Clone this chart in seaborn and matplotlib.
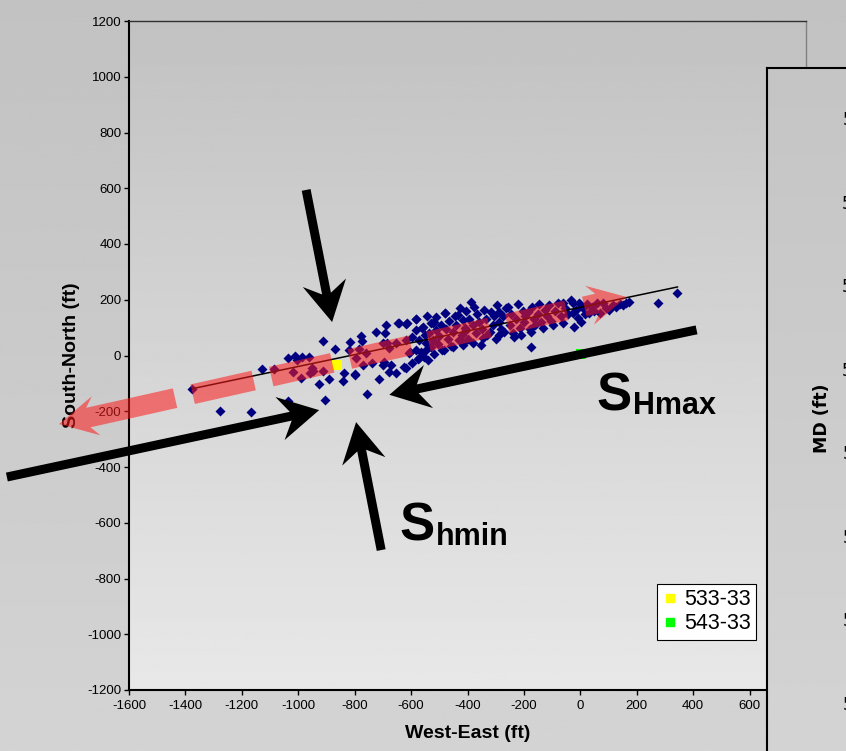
import numpy as np
import pandas as pd
import matplotlib
matplotlib.use('Agg')
import matplotlib.pyplot as plt
from matplotlib.lines import Line2D
from matplotlib.patches import Polygon
from matplotlib.transforms import IdentityTransform
import seaborn as sns

# wellbore survey points (West-East ft, South-North ft)
tail_pts = [(-1378, -121), (-1276, -199), (-1167, -203), (-1128, -50), (-1087, -50),
            (-1036, -8), (-1010, -1), (-985, -4), (-961, -4), (-1020, -58),
            (-991, -80), (-950, -46), (-948, -57), (-914, -54), (-928, -102),
            (-890, -85), (-912, 53), (-870, 24), (-1037, -163), (-904, -160),
            (-958, -63), (-1005, -15)]

mid_pts = [(-841, -92), (-837, -62), (-816, 50), (-819, 20), (-800, -71), (-798, -66),
           (-796, -10), (-785, 24), (-777, 71), (-773, 53), (-772, -34), (-760, 8),
           (-757, -138), (-737, -26), (-725, 83), (-713, -85), (-701, 44), (-701, -34),
           (-695, -22), (-694, 80), (-689, 109), (-684, 44), (-677, 26), (-677, -58),
           (-672, -34), (-654, -64), (-654, 44), (-648, 115), (-642, 115), (-624, -40),
           (-618, 113), (-618, 56), (-618, -46), (-615, 115), (-606, 8), (-604, 13)]

core_pts = [(-595, -28), (-595, 66), (-583, 130), (-583, 91), (-583, 20), (-581, 131),
            (-575, -12), (-571, 56), (-571, -10), (-566, 13), (-560, 100), (-559, 103),
            (-553, -4), (-550, 75), (-547, 44), (-547, 20), (-545, 140), (-541, -16),
            (-535, 80), (-530, 30), (-528, 115), (-524, 56), (-524, 115), (-520, 5),
            (-518, 121), (-512, 139), (-510, 90), (-505, 40), (-500, 70), (-495, 110),
            (-490, 20), (-482, 20), (-480, 151), (-478, 151), (-475, 95), (-470, 60),
            (-465, 125), (-460, 35), (-453, 32), (-450, 85), (-445, 140), (-440, 110),
            (-435, 145), (-430, 55), (-425, 170), (-420, 75), (-417, 44), (-417, 127),
            (-417, 38), (-410, 100), (-405, 91), (-405, 160), (-400, 60), (-395, 130),
            (-388, 193), (-382, 44), (-380, 110), (-376, 175), (-370, 80), (-365, 150),
            (-360, 120), (-352, 38), (-350, 95), (-346, 62), (-340, 165), (-335, 130),
            (-330, 75), (-322, 85), (-317, 157), (-311, 109), (-305, 140), (-300, 60),
            (-295, 180), (-290, 120), (-287, 157), (-287, 74), (-280, 95), (-275, 140),
            (-269, 85), (-265, 170), (-258, 175), (-250, 110), (-245, 150), (-240, 80),
            (-234, 67), (-228, 130), (-220, 185), (-215, 100), (-210, 74), (-205, 160),
            (-200, 120), (-195, 140), (-187, 157), (-180, 95), (-175, 85), (-175, 30),
            (-170, 175), (-165, 130), (-160, 110), (-150, 150), (-145, 185), (-140, 120),
            (-133, 98), (-125, 165), (-118, 140), (-110, 181), (-105, 125), (-98, 109)]

east_pts = [(-90, 160), (-80, 190), (-70, 140), (-62, 187), (-62, 115), (-55, 170),
            (-45, 150), (-33, 199), (-27, 187), (-27, 151), (-21, 103), (-15, 163),
            (-10, 135), (-3, 187), (2, 121), (10, 170), (18, 150), (25, 185),
            (32, 151), (40, 175), (50, 160), (60, 190), (68, 151), (80, 187),
            (90, 170), (103, 163), (115, 180), (127, 175), (140, 185), (150, 181),
            (162, 190), (174, 193), (275, 189), (342, 225)]

# offset wells
well_names = ['533-33', '543-33']
well_x = [-862, 3]
well_y = [-33, 5]
well_colors = ['#ffff00', '#00ff00']

# linear trend through the survey
trend_x = [-1380, 345]
trend_y = [-120, 246]

x_ticks = list(range(-1600, 801, 200))
y_ticks = list(range(-1200, 1201, 200))
md_ticks = [5000, 5100, 5200, 5300, 5400, 5500, 5600, 5700]

sns.set_style('ticks')
plt.rcParams['font.family'] = ['Liberation Sans', 'DejaVu Sans']
plt.rcParams['lines.scale_dashes'] = False
plt.rcParams['axes.unicode_minus'] = False
plt.rcParams['text.color'] = 'black'
plt.rcParams['axes.labelcolor'] = 'black'

W, H = 846, 751
fig = plt.figure(figsize=(W / 100, H / 100), dpi=100)


def box(x0, y0, x1, y1):
    return [x0 / W, 1 - y1 / H, (x1 - x0) / W, (y1 - y0) / H]


def stealth(ax, tail, tip, shaft, head_len, head_w, notch, **kw):
    # Excel-like notched arrow, sized in pixels
    a = ax.transData.transform(tail)
    b = ax.transData.transform(tip)
    u = (b - a) / np.hypot(*(b - a))
    n = np.array([-u[1], u[0]])
    neck = b - (head_len - notch) * u
    back = b - head_len * u
    poly = [a + shaft / 2 * n, neck + shaft / 2 * n, back + head_w / 2 * n, b,
            back - head_w / 2 * n, neck - shaft / 2 * n, a - shaft / 2 * n]
    ax.add_patch(Polygon(poly, closed=True, transform=IdentityTransform(),
                         clip_on=False, lw=0, **kw))


# chart-area gradient
bg = fig.add_axes([0, 0, 1, 1], zorder=-5)
bg.imshow(np.linspace(0.76, 0.83, 256)[:, None], cmap='gray', vmin=0, vmax=1,
          aspect='auto', extent=[0, 1, 0, 1])
bg.axis('off')

ax = fig.add_axes(box(129, 21, 806, 690))
ax.imshow(np.linspace(0.76, 0.91, 256)[:, None], cmap='gray', vmin=0, vmax=1,
          aspect='auto', extent=[-1600, 800, -1200, 1200], zorder=0)
ax.patch.set_alpha(0)

pts = pd.DataFrame(tail_pts + mid_pts + core_pts + east_pts, columns=['we', 'sn'])
sns.scatterplot(data=pts, x='we', y='sn', marker='D', color='#000080', s=26,
                linewidth=0, ax=ax, zorder=3)
ax.plot(trend_x, trend_y, color='black', lw=1.1, zorder=4)

wells = pd.DataFrame({'we': well_x, 'sn': well_y, 'well': well_names})
sns.scatterplot(data=wells, x='we', y='sn', hue='well', palette=well_colors,
                marker='s', s=55, linewidth=0, ax=ax, zorder=3.5, legend=False)

ax.set_xlim(-1600, 800)
ax.set_ylim(-1200, 1200)

# red dashed SHmax trend arrow
red = '#ff1a1a'
ax.plot([-1653, -49], [-202, 162], color=red, alpha=0.55, lw=14.4,
        dashes=(45, 13), dash_capstyle='butt', zorder=5, clip_on=False)
stealth(ax, (14, 176), (164, 210), 20, 38, 40, 8, fc=red, alpha=0.55, zorder=5)
stealth(ax, (-1653, -202), (-1848, -246), 20, 38, 40, 8, fc=red, alpha=0.55, zorder=5)

# stress arrows
for tail, tip in [((-2033, -436), (-926, -196)), ((412, 92), (-677, -141)),
                  ((-972, 594), (-880, 120)), ((-706, -698), (-795, -239))]:
    stealth(ax, tail, tip, 9, 40, 44, 11, fc='black', zorder=6)

ax.text(57, -199, 'S', fontsize=38, fontweight='bold', va='baseline', zorder=7)
ax.text(185, -210, 'Hmax', fontsize=22, fontweight='bold', va='baseline', zorder=7)
ax.text(-642, -662, 'S', fontsize=38, fontweight='bold', va='baseline', zorder=7)
ax.text(-511, -680, 'hmin', fontsize=22, fontweight='bold', va='baseline', zorder=7)

ax.set_xticks(x_ticks)
ax.set_yticks(y_ticks)
ax.tick_params(direction='out', length=3.5, width=1, color='black', labelsize=9.5,
               labelcolor='black')
ax.tick_params(axis='x', pad=4)
ax.tick_params(axis='y', pad=2)
ax.set_xlabel('West-East (ft)', fontsize=14, fontweight='bold', labelpad=9)
ax.set_ylabel('South-North (ft)', fontsize=14, fontweight='bold', labelpad=5)
for side in ['left', 'bottom']:
    ax.spines[side].set_color('black')
    ax.spines[side].set_linewidth(1.5)
ax.spines['top'].set_color('#303030')
ax.spines['top'].set_linewidth(1)
ax.spines['right'].set_color('#808080')
ax.spines['right'].set_linewidth(1)

handles = [Line2D([], [], marker='s', color=c, linestyle='none', markersize=6)
           for c in well_colors]
leg = ax.legend(handles, well_names, loc='lower right', bbox_to_anchor=(0.926, 0.075),
                borderaxespad=0, fontsize=15.5, frameon=True, fancybox=False,
                handlelength=0.7, handletextpad=0.3, borderpad=0.25, labelspacing=0.15)
leg.get_frame().set_edgecolor('black')
leg.get_frame().set_linewidth(0.8)
leg.get_frame().set_facecolor('white')
leg.get_frame().set_alpha(1)
leg.set_zorder(8)

# neighbouring MD chart, cut off at the figure edge
panel = fig.add_axes(box(767, 68, 1000, 751), zorder=2)
panel.imshow(np.linspace(0.77, 0.83, 256)[:, None], cmap='gray', vmin=0, vmax=1,
             aspect='auto', extent=[0, 1, 0, 1])
panel.set_xticks([])
panel.set_yticks([])
for side in ['right', 'bottom']:
    panel.spines[side].set_visible(False)
for side in ['left', 'top']:
    panel.spines[side].set_color('black')
    panel.spines[side].set_linewidth(1.5)

md = fig.add_axes(box(894, 118, 990, 703), zorder=3)
md.patch.set_alpha(0)
md.set_ylim(5700, 5000)
md.set_yticks(md_ticks)
md.set_xticks([])
md.tick_params(axis='y', labelsize=12, length=3.5, labelcolor='black',
               labelfontfamily='DejaVu Sans')
for s in md.spines.values():
    s.set_visible(False)
fig.text(822 / W, 1 - 418 / H, 'MD (ft)', rotation=90, ha='center', va='center',
         fontsize=12.5, fontweight='bold', family='DejaVu Sans', zorder=5)

fig.savefig('out.png', dpi=100)
